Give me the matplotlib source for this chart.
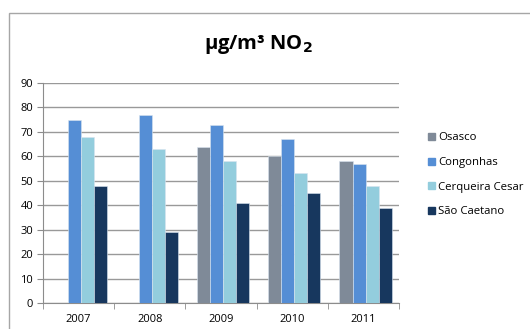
import matplotlib.pyplot as plt
import matplotlib.patches as mpatches
import numpy as np

years = ['2007', '2008', '2009', '2010', '2011']
stations = ['Osasco', 'Congonhas', 'Cerqueira Cesar', 'São Caetano']
osasco = [np.nan, np.nan, 64, 60, 58]
congonhas = [75, 77, 73, 67, 57]
cerqueira = [68, 63, 58, 53, 48]
sao_caetano = [48, 29, 41, 45, 39]
colors = ['#7F8A98', '#558ED5', '#93CDDD', '#17375E']

plt.rcParams['font.family'] = ['Open Sans', 'DejaVu Sans']

fig = plt.figure(figsize=(5.3, 3.29), dpi=100)
# chart frame
fig.patches.append(mpatches.Rectangle((9 / 530, -0.05), 1.0, 1 - 13 / 329 + 0.05,
                                      transform=fig.transFigure, fill=False,
                                      edgecolor='#A6A6A6', linewidth=1.0))
ax = fig.add_axes([43 / 530, 1 - 303 / 329, 356 / 530, 220 / 329])

x = np.arange(len(years))
w = 0.183
series = [osasco, congonhas, cerqueira, sao_caetano]
for i, (vals, name, c) in enumerate(zip(series, stations, colors)):
    ax.bar(x + (i - 1.5) * w + 0.03, vals, w, color=c, edgecolor='#D9E4F0',
           linewidth=0.4, label=name, zorder=3)

ax.set_ylim(0, 90)
ax.set_xlim(-0.5, len(years) - 0.5)
ax.set_yticks(range(0, 91, 10))
ax.yaxis.grid(True, color='#999999', linewidth=1.0, zorder=0)
ax.set_xticks(x)
ax.set_xticklabels(years)
ax.set_xticks(np.arange(-0.5, len(years), 1), minor=True)
ax.tick_params(axis='x', which='major', length=0, pad=8, labelsize=8)
ax.tick_params(axis='x', which='minor', length=4, color='#8C8C8C')
ax.tick_params(axis='y', length=4, color='#8C8C8C', labelsize=8, pad=3)
for s in ['top', 'right']:
    ax.spines[s].set_visible(False)
for s in ['left', 'bottom']:
    ax.spines[s].set_color('#8C8C8C')

fig.text(0.487, 1 - 45 / 329, r'µg/m³ NO$_\mathbf{2}$', ha='center', va='center',
         fontsize=14.5, fontweight='bold')

handles = [mpatches.Patch(color=c) for c in colors]
fig.legend(handles, stations, loc='center left', bbox_to_anchor=(418 / 530, 1 - 175 / 329),
           frameon=False, fontsize=8.2, handlelength=0.6, handleheight=0.6,
           handletextpad=0.3, labelspacing=1.2)

fig.savefig('out.png', dpi=100)
